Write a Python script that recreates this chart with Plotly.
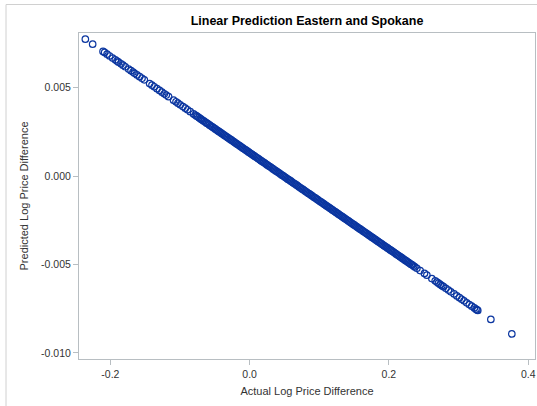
import plotly.graph_objects as go

title_text = "Linear Prediction Eastern and Spokane"
x_title = "Actual Log Price Difference"
y_title = "Predicted Log Price Difference"

x_ticks = [-0.2, 0.0, 0.2, 0.4]
x_tick_labels = ["-0.2", "0.0", "0.2", "0.4"]
y_ticks = [-0.010, -0.005, 0.000, 0.005]
y_tick_labels = ["-0.010", "-0.005", "0.000", "0.005"]

# actual log price difference (x) and predicted (y)
x_left = [-0.2359, -0.2254, -0.2105, -0.2082, -0.2047, -0.2010, -0.1967, -0.1928,
          -0.1904, -0.1881, -0.1846, -0.1818, -0.1785, -0.1737, -0.1703, -0.1674,
          -0.1651, -0.1617, -0.1580, -0.1545, -0.1512, -0.1436, -0.1402, -0.1369,
          -0.1330, -0.1293, -0.1258, -0.1225, -0.1197, -0.1164, -0.1092, -0.1057,
          -0.1029, -0.0996, -0.0957, -0.0924, -0.0891, -0.0852, -0.0805]
y_left = [0.00775, 0.00747, 0.00706, 0.00700, 0.00690, 0.00680, 0.00668, 0.00658,
          0.00651, 0.00645, 0.00636, 0.00628, 0.00619, 0.00606, 0.00597, 0.00589,
          0.00582, 0.00573, 0.00563, 0.00554, 0.00545, 0.00524, 0.00515, 0.00506,
          0.00495, 0.00485, 0.00475, 0.00466, 0.00459, 0.00450, 0.00430, 0.00421,
          0.00413, 0.00404, 0.00394, 0.00385, 0.00376, 0.00365, 0.00352]

x_mid = [-0.0781, -0.0763, -0.0748, -0.0726, -0.0709, -0.0692, -0.0670, -0.0654,
         -0.0631, -0.0615, -0.0598, -0.0577, -0.0560, -0.0542, -0.0525, -0.0506,
         -0.0489, -0.0471, -0.0453, -0.0436, -0.0418, -0.0400, -0.0383, -0.0364,
         -0.0347, -0.0329, -0.0312, -0.0294, -0.0276, -0.0259, -0.0241, -0.0223,
         -0.0206, -0.0188, -0.0170, -0.0153, -0.0135, -0.0118, -0.0100, -0.0082,
         -0.0065, -0.0047, -0.0029, -0.0012, 0.0006, 0.0023, 0.0041, 0.0059,
         0.0076, 0.0094, 0.0112, 0.0129, 0.0147, 0.0165, 0.0182, 0.0200,
         0.0218, 0.0235, 0.0253, 0.0271, 0.0288, 0.0306, 0.0324, 0.0341,
         0.0359, 0.0377, 0.0394, 0.0412, 0.0430, 0.0447, 0.0465, 0.0483,
         0.0500, 0.0518, 0.0536, 0.0553, 0.0571, 0.0589, 0.0606, 0.0624,
         0.0642, 0.0659, 0.0677, 0.0695, 0.0712, 0.0730, 0.0748, 0.0765,
         0.0783, 0.0801, 0.0818, 0.0836, 0.0854, 0.0871, 0.0889, 0.0907,
         0.0924, 0.0942, 0.0960, 0.0977, 0.0995, 0.1013, 0.1030, 0.1048,
         0.1066, 0.1083, 0.1101, 0.1119, 0.1136, 0.1154, 0.1172, 0.1189,
         0.1207, 0.1225, 0.1242, 0.1260, 0.1278, 0.1295, 0.1313, 0.1331,
         0.1348, 0.1366, 0.1384, 0.1401, 0.1419, 0.1437, 0.1454, 0.1472,
         0.1490, 0.1507, 0.1525, 0.1543, 0.1560, 0.1578, 0.1596, 0.1613,
         0.1631, 0.1649, 0.1666, 0.1684, 0.1702, 0.1719, 0.1737, 0.1755,
         0.1772, 0.1790, 0.1808, 0.1825, 0.1843, 0.1861, 0.1878, 0.1896,
         0.1914, 0.1931, 0.1949, 0.1967, 0.1984, 0.2002, 0.2020, 0.2037,
         0.2055, 0.2073, 0.2090, 0.2108, 0.2126, 0.2143, 0.2161, 0.2179,
         0.2196, 0.2214, 0.2232, 0.2249, 0.2267, 0.2285, 0.2302, 0.2320,
         0.2338, 0.2355, 0.2373]
y_mid = [0.00346, 0.00341, 0.00337, 0.00331, 0.00326, 0.00321, 0.00315, 0.00311,
         0.00305, 0.00300, 0.00296, 0.00290, 0.00285, 0.00281, 0.00276, 0.00271,
         0.00266, 0.00261, 0.00256, 0.00252, 0.00247, 0.00242, 0.00237, 0.00232,
         0.00227, 0.00223, 0.00218, 0.00213, 0.00208, 0.00204, 0.00199, 0.00194,
         0.00189, 0.00184, 0.00179, 0.00175, 0.00170, 0.00165, 0.00160, 0.00155,
         0.00151, 0.00146, 0.00141, 0.00136, 0.00131, 0.00127, 0.00122, 0.00117,
         0.00112, 0.00107, 0.00103, 0.00098, 0.00093, 0.00088, 0.00083, 0.00079,
         0.00074, 0.00069, 0.00064, 0.00059, 0.00055, 0.00050, 0.00045, 0.00040,
         0.00035, 0.00030, 0.00026, 0.00021, 0.00016, 0.00011, 0.00006, 0.00002,
         -0.00003, -0.00008, -0.00013, -0.00018, -0.00022, -0.00027, -0.00032, -0.00037,
         -0.00042, -0.00046, -0.00051, -0.00056, -0.00061, -0.00066, -0.00071, -0.00075,
         -0.00080, -0.00085, -0.00090, -0.00095, -0.00099, -0.00104, -0.00109, -0.00114,
         -0.00119, -0.00123, -0.00128, -0.00133, -0.00138, -0.00143, -0.00147, -0.00152,
         -0.00157, -0.00162, -0.00167, -0.00172, -0.00176, -0.00181, -0.00186, -0.00191,
         -0.00196, -0.00200, -0.00205, -0.00210, -0.00215, -0.00220, -0.00224, -0.00229,
         -0.00234, -0.00239, -0.00244, -0.00248, -0.00253, -0.00258, -0.00263, -0.00268,
         -0.00273, -0.00277, -0.00282, -0.00287, -0.00292, -0.00297, -0.00301, -0.00306,
         -0.00311, -0.00316, -0.00320, -0.00325, -0.00330, -0.00335, -0.00340, -0.00345,
         -0.00349, -0.00354, -0.00359, -0.00364, -0.00369, -0.00374, -0.00378, -0.00383,
         -0.00388, -0.00393, -0.00398, -0.00402, -0.00407, -0.00412, -0.00417, -0.00421,
         -0.00426, -0.00431, -0.00436, -0.00441, -0.00446, -0.00450, -0.00455, -0.00460,
         -0.00465, -0.00470, -0.00475, -0.00479, -0.00484, -0.00489, -0.00494, -0.00499,
         -0.00503, -0.00508, -0.00513]

x_right = [0.2402, 0.2449, 0.2511, 0.2545, 0.2617, 0.2665, 0.2689, 0.2712,
           0.2736, 0.2761, 0.2784, 0.2818, 0.2855, 0.2890, 0.2937, 0.2976,
           0.3013, 0.3046, 0.3079, 0.3118, 0.3155, 0.3190, 0.3227, 0.3250,
           0.3265, 0.3276, 0.3464, 0.3765]
y_right = [-0.00521, -0.00534, -0.00550, -0.00560, -0.00579, -0.00592, -0.00599, -0.00605,
           -0.00612, -0.00619, -0.00625, -0.00634, -0.00644, -0.00654, -0.00666, -0.00677,
           -0.00687, -0.00696, -0.00705, -0.00716, -0.00726, -0.00735, -0.00745, -0.00752,
           -0.00756, -0.00759, -0.00810, -0.00892]

x_vals = x_left + x_mid + x_right
y_vals = y_left + y_mid + y_right

W, H = 537, 406
ML, MR, MT, MB = 79, 2, 33, 47
pw, ph = W - ML - MR, H - MT - MB

def px_x(p):
    return (p - ML) / pw

def px_y(p):
    return (H - MB - p) / ph

marker_color = "#0B36A0"
axis_color = "#B8BEC2"
text_color = "#333333"
font_family = "Liberation Sans, Arial, sans-serif"

fig = go.Figure()
fig.add_trace(go.Scatter(
    x=x_vals, y=y_vals, mode="markers",
    marker=dict(symbol="circle-open", size=6.5, color=marker_color,
                line=dict(width=1.2, color=marker_color)),
    hoverinfo="skip", showlegend=False,
))

fig.update_layout(
    width=W, height=H,
    margin=dict(l=ML, r=MR, t=MT, b=MB, pad=0),
    paper_bgcolor="white", plot_bgcolor="white",
    font=dict(family=font_family, color=text_color, size=11),
    title=dict(text="<b>" + title_text + "</b>", x=px_x(307) * pw / W + ML / W,
               xanchor="center", y=1 - 20.5 / H, yanchor="middle",
               font=dict(size=12.5, color="#000000", family=font_family)),
    xaxis=dict(range=[-0.245, 0.4098], tickvals=x_ticks, ticktext=x_tick_labels,
               showgrid=False, zeroline=False, showline=True, linecolor=axis_color,
               linewidth=1, mirror=True, ticks="outside", ticklen=5, tickcolor=axis_color,
               tickfont=dict(size=10.5, color=text_color),
               title=dict(text=x_title, font=dict(size=11, color=text_color), standoff=8)),
    yaxis=dict(range=[-0.01034, 0.0081], tickvals=y_ticks, ticktext=y_tick_labels,
               showgrid=False, zeroline=False, showline=True, linecolor=axis_color,
               linewidth=1, mirror=True, ticks="outside", ticklen=5, tickcolor=axis_color,
               tickfont=dict(size=10.5, color=text_color),
               title=dict(text=y_title, font=dict(size=11, color=text_color), standoff=10)),
    shapes=[dict(type="rect", xref="paper", yref="paper",
                 x0=px_x(6), x1=px_x(545), y0=px_y(415), y1=px_y(4.5),
                 line=dict(color="#D0D0D0", width=1), fillcolor="rgba(0,0,0,0)",
                 layer="below")],
)

fig.write_html("out.html")
